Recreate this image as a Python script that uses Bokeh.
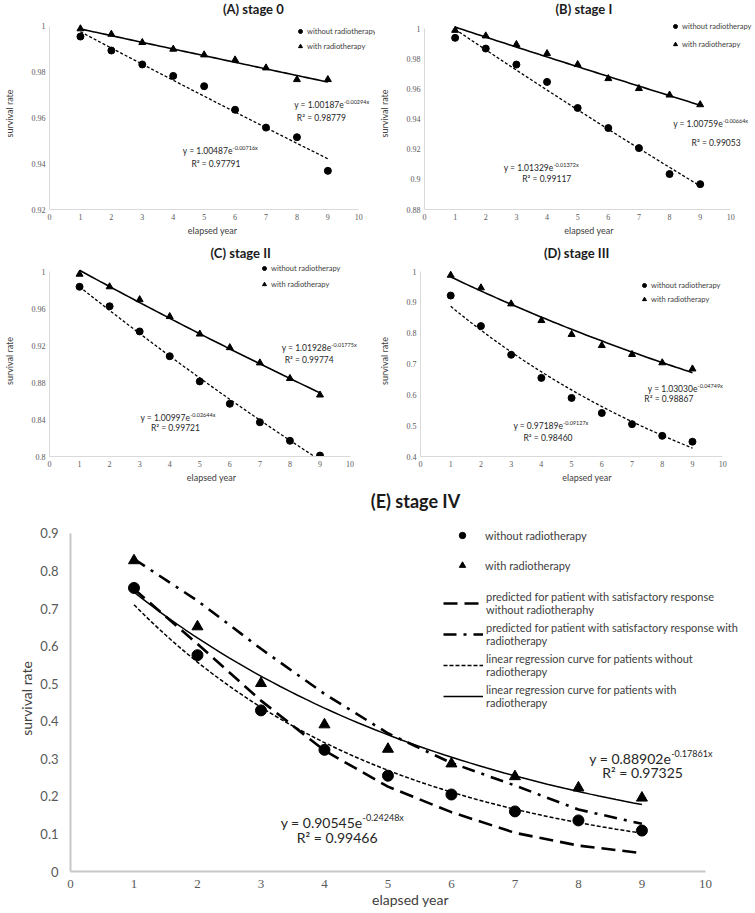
import numpy as np
from bokeh.plotting import figure
from bokeh.models import FixedTicker, Label, Legend, LegendItem, Range1d
from bokeh.layouts import column, row
from bokeh.embed import file_html
from bokeh.resources import INLINE

# ---------------- data ----------------
years = [1, 2, 3, 4, 5, 6, 7, 8, 9]
x_ticks = [0, 1, 2, 3, 4, 5, 6, 7, 8, 9, 10]

# stage 0
s0_without = [0.9956, 0.9895, 0.9834, 0.9784, 0.9739, 0.9636, 0.9558, 0.9516, 0.9369]
s0_with = [0.9990, 0.9966, 0.9930, 0.9901, 0.9876, 0.9854, 0.9819, 0.9768, 0.9768]
s0_fit_without = [1.00487, 0.00716, 0.97791]   # a, b, R2  (y = a e^(-b x))
s0_fit_with = [1.00187, 0.00294, 0.98779]
s0_yticks = [0.92, 0.94, 0.96, 0.98, 1.0]
s0_ylabels = ["0.92", "0.94", "0.96", "0.98", "1"]

# stage I
s1_without = [0.9938, 0.9867, 0.9761, 0.9646, 0.9473, 0.9340, 0.9207, 0.9035, 0.8968]
s1_with = [0.9988, 0.9951, 0.9894, 0.9834, 0.9761, 0.9668, 0.9602, 0.9559, 0.9495]
s1_fit_without = [1.01329, 0.01372, 0.99117]
s1_fit_with = [1.00759, 0.00664, 0.99053]
s1_yticks = [0.88, 0.90, 0.92, 0.94, 0.96, 0.98, 1.0]
s1_ylabels = ["0.88", "0.9", "0.92", "0.94", "0.96", "0.98", "1"]

# stage II
s2_without = [0.9835, 0.9624, 0.9352, 0.9084, 0.8812, 0.8570, 0.8370, 0.8170, 0.8010]
s2_with = [0.9971, 0.9835, 0.9696, 0.9513, 0.9324, 0.9177, 0.9012, 0.8844, 0.8665]
s2_fit_without = [1.00997, 0.02644, 0.99721]
s2_fit_with = [1.01928, 0.01775, 0.99774]
s2_yticks = [0.80, 0.84, 0.88, 0.92, 0.96, 1.0]
s2_ylabels = ["0.8", "0.84", "0.88", "0.92", "0.96", "1"]

# stage III
s3_without = [0.922, 0.823, 0.730, 0.655, 0.590, 0.541, 0.505, 0.467, 0.448]
s3_with = [0.988, 0.947, 0.895, 0.841, 0.796, 0.760, 0.731, 0.704, 0.684]
s3_fit_without = [0.97189, 0.09127, 0.98460]
s3_fit_with = [1.03030, 0.04749, 0.98867]
s3_yticks = [0.4, 0.5, 0.6, 0.7, 0.8, 0.9, 1.0]
s3_ylabels = ["0.4", "0.5", "0.6", "0.7", "0.8", "0.9", "1"]

# stage IV
s4_without = [0.755, 0.576, 0.429, 0.324, 0.255, 0.205, 0.160, 0.136, 0.109]
s4_with = [0.828, 0.652, 0.501, 0.391, 0.326, 0.287, 0.253, 0.223, 0.196]
s4_pred_without = [0.752, 0.606, 0.455, 0.322, 0.226, 0.158, 0.103, 0.069, 0.049]
s4_pred_with = [0.832, 0.721, 0.593, 0.473, 0.368, 0.289, 0.229, 0.165, 0.127]
s4_fit_without = [0.90545, 0.24248, 0.99466]
s4_fit_with = [0.88902, 0.17861, 0.97325]
s4_yticks = [0, 0.1, 0.2, 0.3, 0.4, 0.5, 0.6, 0.7, 0.8, 0.9]
s4_ylabels = ["0", "0.1", "0.2", "0.3", "0.4", "0.5", "0.6", "0.7", "0.8", "0.9"]

titles = ["(A) stage 0", "(B) stage I", "(C) stage II", "(D) stage III", "(E) stage IV"]

SANS = "Lato"
SERIF = "Liberation Serif"
TICK_COL = "#595959"
TXT_COL = "#404040"


def fit_curve(fit):
    xs = np.linspace(years[0], years[-1], 60)
    return xs, fit[0] * np.exp(-fit[1] * xs)


def title_strip(height, entries, size):
    s = figure(width=755, height=height, x_range=Range1d(0, 755), y_range=Range1d(0, height),
               output_backend="svg", toolbar_location=None, x_axis_location=None,
               y_axis_location=None, min_border=0)
    s.outline_line_color = None
    s.grid.visible = False
    for text, xc, yc in entries:
        s.add_layout(Label(x=xc, y=yc, text=text, text_align="center", text_baseline="middle",
                           text_font=SANS, text_font_size=size, text_font_style="bold",
                           text_color="#1a1a1a"))
    return s


def style_axes(p, yticks, ylabels, ybounds, tick_size, ylab_font, axis_width, axis_col,
               label_size, ystand, xstand, ylab_stand, xlab_stand):
    p.xaxis.ticker = FixedTicker(ticks=x_ticks)
    p.xaxis.major_label_overrides = {t: str(t) for t in x_ticks}
    p.yaxis.ticker = FixedTicker(ticks=yticks)
    p.yaxis.major_label_overrides = {t: l for t, l in zip(yticks, ylabels)}
    p.xaxis.bounds = (x_ticks[0], x_ticks[-1])
    p.yaxis.bounds = ybounds
    for ax in (p.xaxis[0], p.yaxis[0]):
        ax.axis_line_color = axis_col
        ax.axis_line_width = axis_width
        ax.major_tick_line_color = None
        ax.minor_tick_line_color = None
        ax.major_tick_out = 0
        ax.major_tick_in = 0
        ax.minor_tick_out = 0
        ax.minor_tick_in = 0
        ax.major_label_text_color = TICK_COL
        ax.major_label_text_font_size = tick_size
        ax.axis_label_text_font = SANS
        ax.axis_label_text_font_style = "normal"
        ax.axis_label_text_color = TXT_COL
        ax.axis_label_text_font_size = label_size
    p.xaxis.major_label_text_font = SERIF
    p.yaxis.major_label_text_font = ylab_font
    p.yaxis.major_label_standoff = ystand
    p.xaxis.major_label_standoff = xstand
    p.yaxis.axis_label_standoff = ylab_stand
    p.xaxis.axis_label_standoff = xlab_stand
    p.xgrid.visible = False
    p.ygrid.visible = False
    p.outline_line_color = None


def add_equation(p, fit, x_anchor, y_eq, x_r2, y_r2, size, sup_size, raise_px):
    p.add_layout(Label(x=x_anchor, y=y_eq, text="y = %.5fe" % fit[0], text_align="right",
                       text_baseline="middle", text_font=SANS, text_font_size=size,
                       text_color="#262626"))
    p.add_layout(Label(x=x_anchor, y=y_eq, y_offset=raise_px, text="-%.5fx" % fit[1],
                       text_align="left", text_baseline="middle", text_font=SANS,
                       text_font_size=sup_size, text_color="#262626"))
    p.add_layout(Label(x=x_r2, y=y_r2, text="R\u00b2 = %.5f" % fit[2], text_align="center",
                       text_baseline="middle", text_font=SANS, text_font_size=size,
                       text_color="#262626"))


def small_panel(wo, w, fit_wo, fit_w, yr, y_end, yticks, ylabels, width, x_end, borders,
                leg_loc, leg_spacing, eq_w, eq_wo, height):
    left, right, top, bottom = borders
    p = figure(width=width, height=height, x_range=Range1d(0, x_end),
               y_range=Range1d(yr[0], y_end),
               output_backend="svg", toolbar_location=None,
               min_border_left=left, min_border_right=right,
               min_border_top=top, min_border_bottom=bottom,
               x_axis_label="elapsed year", y_axis_label="survival rate")
    style_axes(p, yticks, ylabels, yr, "8px", SERIF, 1, "#d9d9d9", "9px", 4, 4, 14, 2)

    xs, ys = fit_curve(fit_w)
    p.line(xs, ys, line_color="black", line_width=1.6)
    xs, ys = fit_curve(fit_wo)
    p.line(xs, ys, line_color="black", line_width=1.3, line_dash="3 2")
    r_wo = p.scatter(years, wo, marker="circle", size=7, color="black")
    r_w = p.scatter(years, w, marker="triangle", size=7, color="black")

    leg = Legend(items=[LegendItem(label="without radiotherapy", renderers=[r_wo]),
                        LegendItem(label="with radiotherapy", renderers=[r_w])],
                 location=leg_loc, glyph_width=10, glyph_height=10, label_height=10,
                 spacing=leg_spacing, padding=0, margin=0, label_standoff=2,
                 label_text_font=SANS, label_text_font_size="7.5px",
                 label_text_color=TXT_COL, background_fill_alpha=0,
                 border_line_color=None)
    p.add_layout(leg, "center")
    add_equation(p, fit_w, *eq_w, "8.5px", "5.5px", 3)
    add_equation(p, fit_wo, *eq_wo, "8.5px", "5.5px", 3)
    return p


strip1 = title_strip(16, [(titles[0], 203, 8), (titles[1], 570, 8)], "13px")
pA = small_panel(s0_without, s0_with, s0_fit_without, s0_fit_with,
                 (0.92, 1.0), 1.00393, s0_yticks, s0_ylabels, 375, 10.54, (44, 0, 1, 31),
                 (246, 158), 5, (9.52, 0.9655, 8.79, 0.9602), (5.92, 0.9454, 5.38, 0.9401), 224)
pB = small_panel(s1_without, s1_with, s1_fit_without, s1_fit_with,
                 (0.88, 1.0), 1.0073, s1_yticks, s1_ylabels, 380, 10.74, (44, 2, 1, 31),
                 (246, 160), 8, (9.74, 0.937, 9.52, 0.9244), (4.21, 0.9078, 3.99, 0.8999), 224)
strip2 = title_strip(22, [(titles[2], 189, 10), (titles[3], 562, 10)], "13px")
pC = small_panel(s2_without, s2_with, s2_fit_without, s2_fit_with,
                 (0.8, 1.0), 1.0065, s2_yticks, s2_ylabels, 375, 10.78, (41, 2, 3, 29),
                 (210, 167), 6, (9.38, 0.9168, 8.64, 0.9038), (4.68, 0.8411, 4.19, 0.8303), 223)
pD = small_panel(s3_without, s3_with, s3_fit_without, s3_fit_with,
                 (0.4, 1.0), 1.0195, s3_yticks, s3_ylabels, 380, 11.02, (44, 2, 3, 29),
                 (219, 152), 4, (9.17, 0.6205, 8.22, 0.5849), (4.72, 0.5005, 4.22, 0.4616), 223)
strip3 = title_strip(30, [(titles[4], 383, 15)], "18px")

# ---------------- stage IV ----------------
pE = figure(width=755, height=398, x_range=Range1d(0, 10.71), y_range=Range1d(0, 0.9213),
            output_backend="svg", toolbar_location=None,
            min_border_left=70, min_border_right=5, min_border_top=10, min_border_bottom=42,
            x_axis_label="elapsed year", y_axis_label="survival rate")
style_axes(pE, s4_yticks, s4_ylabels, (0, 0.9), "13px", SANS, 2, "#c8c8c8", "14px", 12, 8, 2, 0)

r_pwo = pE.line(years, s4_pred_without, line_color="black", line_width=2.6, line_dash="14 7")
r_pw = pE.line(years, s4_pred_with, line_color="black", line_width=2.6, line_dash="13 7 3 7")
xs, ys = fit_curve(s4_fit_without)
r_lwo = pE.line(xs, ys, line_color="black", line_width=1.5, line_dash="4 2")
xs, ys = fit_curve(s4_fit_with)
r_lw = pE.line(xs, ys, line_color="black", line_width=1.5)
r_cwo = pE.scatter(years, s4_without, marker="circle", size=11, color="black")
r_cw = pE.scatter(years, s4_with, marker="triangle", size=11, color="black")

leg1 = Legend(items=[LegendItem(label="without radiotherapy", renderers=[r_cwo]),
                     LegendItem(label="with radiotherapy", renderers=[r_cw])],
              location=(384, 298), glyph_width=16, glyph_height=16, label_height=16,
              spacing=14, padding=0, margin=0, label_standoff=15,
              label_text_font=SANS, label_text_font_size="11px", label_text_color=TXT_COL,
              background_fill_alpha=0, border_line_color=None)
leg2 = Legend(items=[LegendItem(label="predicted for patient with satisfactory response\nwithout radiotheraphy", renderers=[r_pwo]),
                     LegendItem(label="predicted for patient with satisfactory response with\nradiotherapy", renderers=[r_pw]),
                     LegendItem(label="linear regression curve for patients without\nradiotherapy", renderers=[r_lwo]),
                     LegendItem(label="linear regression curve for patients with\nradiotherapy", renderers=[r_lw])],
              location=(373, 162), glyph_width=40, glyph_height=16, label_height=16,
              spacing=5, padding=0, margin=0, label_standoff=3,
              label_text_font=SANS, label_text_font_size="11px", label_text_color=TXT_COL,
              background_fill_alpha=0, border_line_color=None)
pE.add_layout(leg1, "center")
pE.add_layout(leg2, "center")
add_equation(pE, s4_fit_with, 9.46, 0.301, 9.01, 0.264, "14px", "9px", 5)
add_equation(pE, s4_fit_without, 4.60, 0.1305, 4.20, 0.0905, "14px", "9px", 5)

layout = column(strip1, row(pA, pB), strip2, row(pC, pD), strip3, pE)
open("out.html", "w").write(file_html(layout, INLINE))
